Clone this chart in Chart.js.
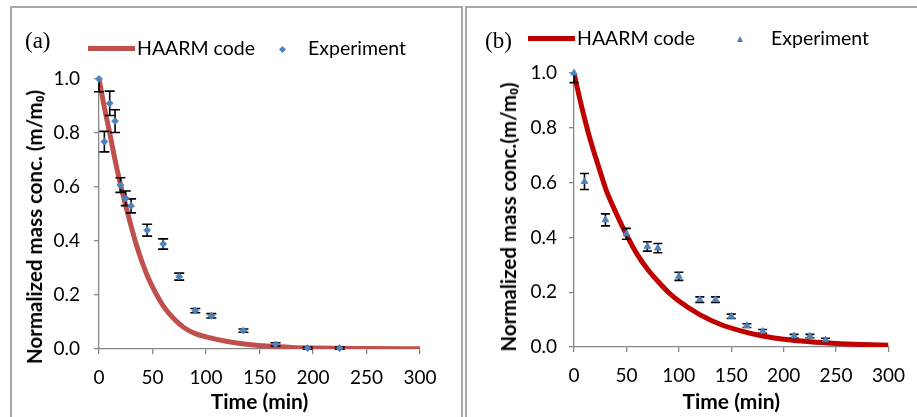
<!DOCTYPE html>
<html>
<head>
<meta charset="utf-8">
<script src="https://cdn.jsdelivr.net/npm/chart.js@4.4.0/dist/chart.umd.min.js"></script>
<style>
  body { margin: 0; background: #fff; font-family: Lato, sans-serif; }
  #page { position: relative; width: 917px; height: 417px; overflow: hidden; }
  .frame { position: absolute; border: 2px solid #a8a8a8; box-sizing: border-box; }
  .box { position: absolute; }
  .tag { position: absolute; font-family: "Liberation Serif", serif; font-size: 23px; color: #000; line-height: 1; }
  .leg { position: absolute; font-size: 19.5px; color: #000; line-height: 1; white-space: nowrap; }
  .swatch { position: absolute; height: 5px; }
  .ytitle { position: absolute; font-weight: bold; font-size: 20.5px; white-space: nowrap; transform: translate(-50%, -50%) rotate(-90deg); }
  .diamond { position: absolute; width: 5px; height: 5px; background: #4f81bd; transform: rotate(45deg); }
  .tri { position: absolute; width: 0; height: 0; border-left: 3.5px solid transparent; border-right: 3.5px solid transparent; border-bottom: 6px solid #4f81bd; }
</style>
</head>
<body>
<div id="page">
  <div class="frame" style="left:10px; top:6px; width:453px; height:430px;"></div>
  <div class="frame" style="left:465px; top:6px; width:470px; height:430px;"></div>

  <div class="box" style="left:0; top:0; width:463px; height:417px;"><canvas id="chartA"></canvas></div>
  <div class="box" style="left:463px; top:0; width:454px; height:417px;"><canvas id="chartB"></canvas></div>

  <!-- panel (a) labels -->
  <div class="tag" style="left:25px; top:29px;">(a)</div>
  <div class="swatch" style="left:88px; top:46px; width:47px; background:#c0504d;"></div>
  <div class="leg" style="left:137px; top:38px;">HAARM code</div>
  <div class="diamond" style="left:280px; top:47px;"></div>
  <div class="leg" style="left:308px; top:38px;">Experiment</div>
  <div class="ytitle" style="left:34px; top:227px;">Normalized mass conc. (m/m₀)</div>

  <!-- panel (b) labels -->
  <div class="tag" style="left:485px; top:29px;">(b)</div>
  <div class="swatch" style="left:528px; top:36px; width:47px; background:#c00000;"></div>
  <div class="leg" style="left:577px; top:28px;">HAARM code</div>
  <div class="tri" style="left:737px; top:36px;"></div>
  <div class="leg" style="left:771px; top:28px;">Experiment</div>
  <div class="ytitle" style="left:508px; top:217px;">Normalized mass conc.(m/m₀)</div>
</div>

<script>
// (a) measurements
const timeA = [0, 5, 10, 15, 20, 25, 30, 45, 60, 75, 90, 105, 135, 165, 195, 225];
const expA  = [1.0, 0.768, 0.91, 0.844, 0.607, 0.558, 0.53, 0.44, 0.389, 0.268, 0.142, 0.123, 0.068, 0.017, 0.003, 0.003];
const errA  = [0.047, 0.038, 0.045, 0.042, 0.027, 0.027, 0.026, 0.022, 0.019, 0.013, 0.008, 0.008, 0.006, 0.006, 0.004, 0.004];
// (a) HAARM model curve
const modelTimeA = [0, 5, 10, 15, 20, 25, 30, 35, 40, 45, 50, 60, 70, 80, 90, 100, 120, 140, 160, 180, 200, 250, 300];
const modelA     = [1.0, 0.895, 0.80, 0.70, 0.61, 0.53, 0.455, 0.385, 0.325, 0.273, 0.23, 0.16, 0.112, 0.078, 0.057, 0.045, 0.028, 0.017, 0.01, 0.006, 0.004, 0.002, 0.001];

// (b) measurements
const timeB = [0, 10, 30, 50, 70, 80, 100, 120, 135, 150, 165, 180, 210, 225, 240];
const expB  = [1.0, 0.604, 0.464, 0.413, 0.367, 0.361, 0.258, 0.173, 0.173, 0.112, 0.078, 0.057, 0.04, 0.04, 0.026];
const errB  = [0.035, 0.029, 0.022, 0.02, 0.017, 0.017, 0.015, 0.01, 0.01, 0.008, 0.007, 0.007, 0.006, 0.006, 0.006];
// (b) HAARM model curve
const modelTimeB = [0, 5, 10, 15, 20, 25, 30, 40, 50, 60, 70, 80, 90, 100, 120, 140, 160, 180, 200, 225, 250, 275, 300];
const modelB     = [1.0, 0.914, 0.835, 0.763, 0.70, 0.64, 0.58, 0.49, 0.41, 0.34, 0.285, 0.24, 0.20, 0.168, 0.118, 0.082, 0.058, 0.04, 0.028, 0.019, 0.013, 0.009, 0.006];

const xTicks = [0, 50, 100, 150, 200, 250, 300];
const yTicks = [0, 0.2, 0.4, 0.6, 0.8, 1.0];

const pts = (xs, ys) => xs.map((x, i) => ({ x: x, y: ys[i] }));

// error bars go on top of the model line but under the markers
const errorBars = {
  id: 'errorBars',
  afterDatasetDraw(chart, args) {
    if (args.index !== 1) return;
    const { ctx, chartArea, scales: { x, y } } = chart;
    const ds = chart.data.datasets[0];
    const cap = chart.options.plugins.errorBars.cap;
    ctx.save();
    ctx.beginPath();
    ctx.rect(chartArea.left - 10, chartArea.top, chartArea.right - chartArea.left + 20, chart.height - chartArea.top);
    ctx.clip();
    ctx.strokeStyle = '#000';
    ctx.lineWidth = 1.6;
    ds.data.forEach((p, i) => {
      const e = ds.errors[i];
      const px = x.getPixelForValue(p.x);
      const hi = y.getPixelForValue(p.y + e);
      const lo = y.getPixelForValue(p.y - e);
      ctx.beginPath();
      ctx.moveTo(px, hi); ctx.lineTo(px, lo);
      ctx.moveTo(px - cap, hi); ctx.lineTo(px + cap, hi);
      ctx.moveTo(px - cap, lo); ctx.lineTo(px + cap, lo);
      ctx.stroke();
    });
    ctx.restore();
  }
};

function makeChart(id, cfg) {
  const axisColor = '#868686';
  const tickFont = { family: 'Lato', size: 19 };
  return new Chart(document.getElementById(id), {
    type: 'scatter',
    data: {
      datasets: [
        {
          label: 'Experiment',
          data: pts(cfg.times, cfg.exp),
          errors: cfg.errs,
          pointStyle: cfg.marker,
          pointRadius: cfg.markerSize,
          backgroundColor: '#4f81bd',
          borderColor: '#4f81bd',
          borderWidth: 1,
          clip: false,
          order: 0
        },
        {
          label: 'HAARM code',
          data: pts(cfg.modelTimes, cfg.model),
          showLine: true,
          borderColor: cfg.lineColor,
          borderWidth: 5,
          pointRadius: 0,
          cubicInterpolationMode: 'monotone',
          order: 1
        }
      ]
    },
    options: {
      responsive: true,
      maintainAspectRatio: false,
      animation: false,
      events: [],
      layout: { padding: cfg.padding },
      plugins: {
        legend: { display: false },
        tooltip: { enabled: false },
        errorBars: { cap: cfg.cap }
      },
      scales: {
        x: {
          type: 'linear',
          min: 0, max: 300,
          afterBuildTicks: s => { s.ticks = xTicks.map(v => ({ value: v })); },
          afterFit: s => { s.height = cfg.xHeight; },
          border: { color: axisColor, width: 1.3 },
          grid: { drawOnChartArea: false, drawTicks: true, tickLength: 5, color: axisColor, lineWidth: 1.3 },
          ticks: { color: '#000', font: tickFont, padding: 12, maxRotation: 0 },
          title: {
            display: true, text: 'Time (min)', color: '#000',
            font: { family: 'Lato', size: 21, weight: 'bold' },
            padding: { top: 0, bottom: 2 }
          }
        },
        y: {
          type: 'linear',
          min: 0, max: 1,
          afterBuildTicks: s => { s.ticks = yTicks.map(v => ({ value: v })); },
          afterFit: s => { s.width = cfg.yWidth; },
          border: { color: axisColor, width: 1.3 },
          grid: { drawOnChartArea: false, drawTicks: true, tickLength: 5, color: axisColor, lineWidth: 1.3 },
          ticks: { color: '#000', font: tickFont, padding: cfg.yPad, callback: v => v.toFixed(1) }
        }
      }
    },
    plugins: [errorBars]
  });
}

makeChart('chartA', {
  times: timeA, exp: expA, errs: errA,
  modelTimes: modelTimeA, model: modelA,
  marker: 'rectRot', markerSize: 3.4, lineColor: '#c0504d', cap: 5,
  padding: { left: 0, top: 79, right: 43, bottom: 0 },
  xHeight: 68, yWidth: 99, yPad: 14
});

makeChart('chartB', {
  times: timeB, exp: expB, errs: errB,
  modelTimes: modelTimeB, model: modelB,
  marker: 'triangle', markerSize: 3.8, lineColor: '#c00000', cap: 4.5,
  padding: { left: 0, top: 73, right: 18, bottom: 0 },
  xHeight: 70, yWidth: 111, yPad: 12
});
</script>
</body>
</html>
